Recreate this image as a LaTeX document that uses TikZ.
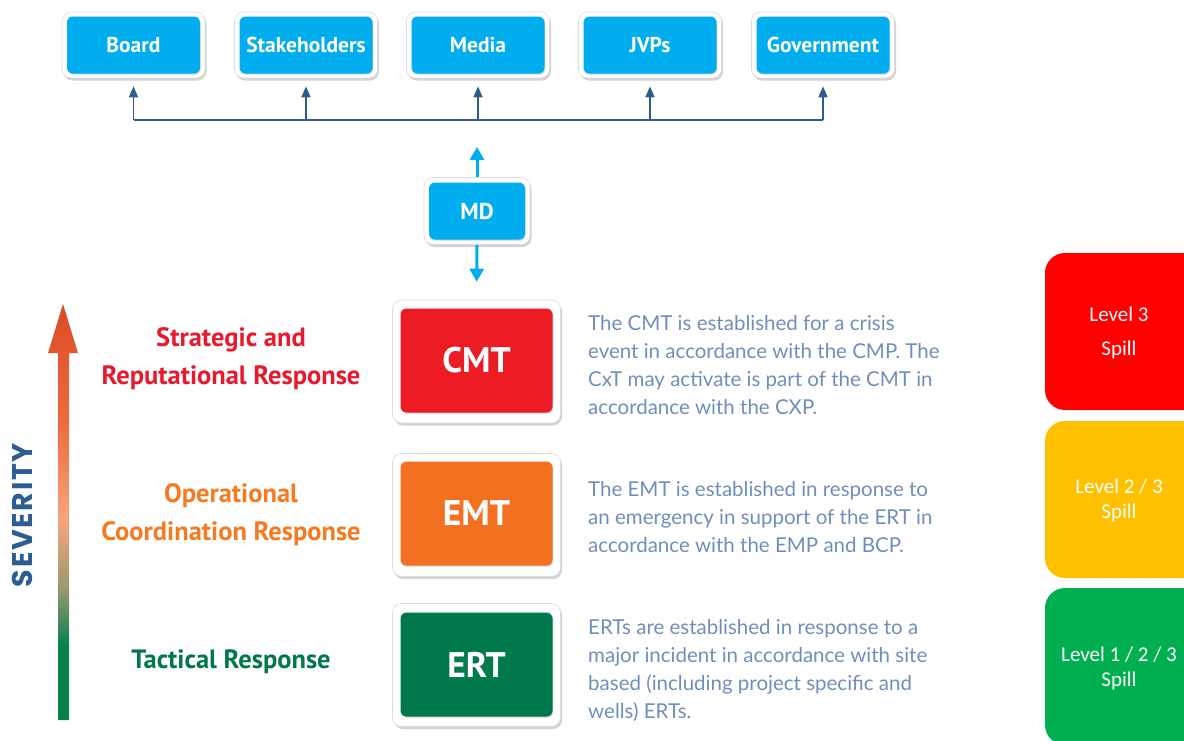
\documentclass[tikz,border=0pt]{standalone}
\usepackage{fontspec}
\setmainfont{PT Sans}
\newfontfamily\descfont{Lato}
\newfontfamily\sevfont[LetterSpace=6]{Poppins}
\newfontfamily\lvlfont{Carlito}
\usetikzlibrary{shadows,arrows.meta}
\definecolor{skyblue}{HTML}{00AEEF}
\definecolor{busblue}{HTML}{2D5D91}
\definecolor{cmtred}{HTML}{ED1C24}
\definecolor{emtorange}{HTML}{F37021}
\definecolor{ertgreen}{HTML}{007A4D}
\definecolor{labred}{HTML}{E8192C}
\definecolor{laborange}{HTML}{F47B20}
\definecolor{labgreen}{HTML}{00784A}
\definecolor{desccol}{HTML}{6F8FBA}
\definecolor{lvred}{HTML}{FF0000}
\definecolor{lvyellow}{HTML}{FFC000}
\definecolor{lvgreen}{HTML}{00B050}
\definecolor{sevgreen}{HTML}{0A7F4F}
\definecolor{sevtan}{HTML}{9A9A70}
\definecolor{sevsalmon}{HTML}{F7A57D}
\definecolor{sevorange}{HTML}{EC6B3C}
\definecolor{sevtop}{HTML}{DC4A26}
\pgfdeclareverticalshading{sevshade}{100bp}{color(0bp)=(sevgreen); color(25bp)=(sevgreen); color(34bp)=(sevgreen); color(41bp)=(sevtan); color(49bp)=(sevsalmon); color(61bp)=(sevorange); color(75bp)=(sevtop); color(100bp)=(sevtop)}
\begin{document}
\begin{tikzpicture}[x=1pt,y=-1pt,
  frame/.style={fill=white, draw=black!14, line width=0.6pt, rounded corners=9pt, inner sep=0pt,
    drop shadow={shadow xshift=1.5pt, shadow yshift=-2.5pt, opacity=0.35}},
  topframe/.style={frame, minimum width=143pt, minimum height=66pt},
  colbox/.style={rounded corners=6pt, text=white, inner sep=0pt,
    drop shadow={shadow xshift=0.6pt, shadow yshift=-1.2pt, opacity=0.35}},
  topbox/.style={colbox, fill=skyblue, font=\fontsize{21.5}{24}\selectfont\bfseries, minimum width=133pt, minimum height=57pt},
  mdframe/.style={frame, minimum width=106pt, minimum height=67pt},
  mdbox/.style={colbox, fill=skyblue, font=\fontsize{23}{26}\selectfont\bfseries, minimum width=96pt, minimum height=57pt},
  bigframe/.style={frame, minimum width=168pt, minimum height=123pt},
  bigbox/.style={colbox, font=\fontsize{35.5}{40}\selectfont\bfseries, minimum width=152pt, minimum height=104pt},
  busline/.style={draw=busblue, line width=1.6pt},
  busarrow/.style={busline, -{Triangle[width=9pt,length=11pt]}, shorten >=8pt},
  mdarrow/.style={draw=skyblue, line width=3pt, -{Triangle[width=14pt,length=13pt]}},
  lab/.style={align=center, font=\fontsize{26.5}{38}\selectfont\bfseries},
  desc/.style={anchor=north west, align=left, inner sep=0pt, text=desccol, font=\descfont\fontsize{20.5}{28}\selectfont},
  lvbox/.style={rounded corners=20pt, minimum width=160pt, minimum height=157pt, inner sep=0pt},
  lvtext/.style={align=center, text=white, font=\lvlfont\fontsize{21}{25}\selectfont}
]
\useasboundingbox (0,0) rectangle (1184,740);
\clip (0,0) rectangle (1184,740);

% top row
\foreach \n/\t/\x in {board/Board/133.5, stake/Stakeholders/306, media/Media/478, jvps/JVPs/650, gov/Government/823}{
  \node[topframe] (\n f) at (\x,45) {};
  \node[topbox] (\n) at (\x,45) {\t};
}
\coordinate (busL) at (133.5,120);
\coordinate (busR) at (823,120);
\draw[busline] (busL) -- (busR);
\foreach \n in {board,stake,media,jvps,gov}{
  \draw[busarrow] (\n f.south |- busL) -- (\n f.south);
}

% MD
\node[mdframe] (mdf) at (477,211) {};
\node[mdbox] (md) at (477,211) {MD};

% CMT / EMT / ERT
\node[bigframe] (cmtf) at (476.5,361.5) {};
\node[bigbox, fill=cmtred] (cmt) at (476.5,360.5) {CMT};
\node[bigframe] (emtf) at (476.5,515) {};
\node[bigbox, fill=emtorange] (emt) at (476.5,513.5) {EMT};
\node[bigframe] (ertf) at (476.5,665) {};
\node[bigbox, fill=ertgreen] (ert) at (476.5,664.5) {ERT};

\draw[mdarrow, shorten >=27pt] (mdf.north) -- (mdf.north |- busL);
\draw[mdarrow, shorten >=18pt] (mdf.south) -- (cmtf.north);

% severity arrow
\shade[shading=sevshade] (58,720) -- (58,353) -- (48,353) -- (63,304) -- (78,353) -- (69,353) -- (69,720) -- cycle;
\node[rotate=90, text=busblue, font=\sevfont\fontsize{28.5}{30}\selectfont\bfseries] (sev) at (22,515) {SEVERITY};

% response labels
\node[lab, text=labred] (strat) at (231,359) {Strategic and\\Reputational Response};
\node[lab, text=laborange] (oper) at (231,514.5) {Operational\\Coordination Response};
\node[lab, text=labgreen] (tact) at (231,662) {Tactical Response};

% descriptions
\node[desc] (cmtd) at (588,315) {The CMT is established for a crisis\\event in accordance with the CMP. The\\CxT may activate is part of the CMT in\\accordance with the CXP.};
\node[desc] (emtd) at (588,481) {The EMT is established in response to\\an emergency in support of the ERT in\\accordance with the EMP and BCP.};
\node[desc] (ertd) at (588,619) {ERTs are established in response to a\\major incident in accordance with site\\based (including project specific and\\wells) ERTs.};

% spill levels
\node[lvbox, fill=lvred] (lv3) at (1125,331.5) {};
\node[lvbox, fill=lvyellow] (lv2) at (1125,499.5) {};
\node[lvbox, fill=lvgreen] (lv1) at (1125,666.5) {};
\node[lvtext] (lv3t) at (1119,333) {Level 3\\[9pt]Spill};
\node[lvtext] (lv2t) at (1119,500.5) {Level 2 / 3\\Spill};
\node[lvtext] (lv1t) at (1119,668) {Level 1 / 2 / 3\\Spill};
\end{tikzpicture}
\end{document}
